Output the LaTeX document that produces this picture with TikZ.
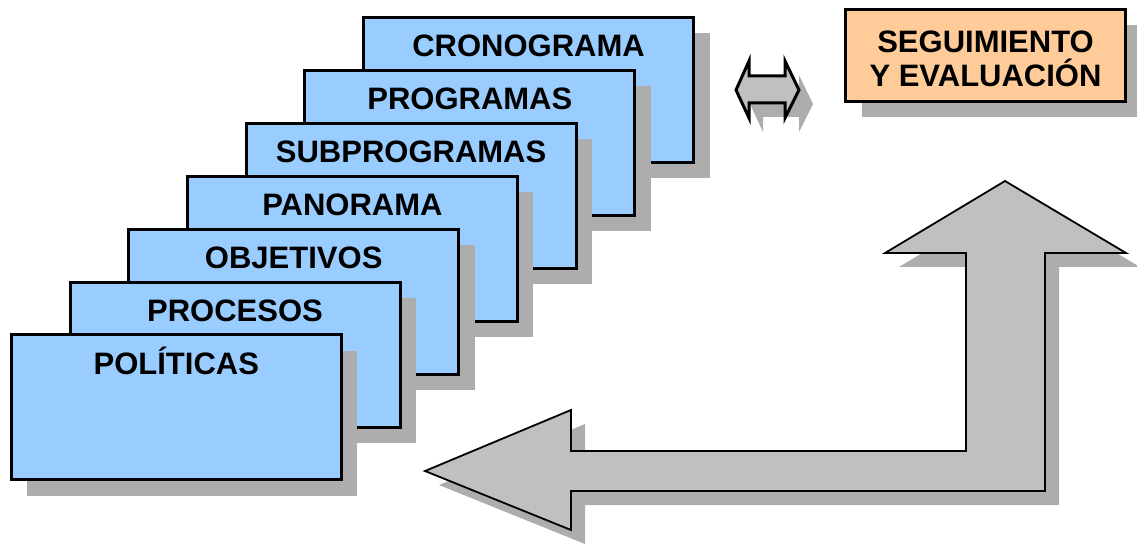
\documentclass[tikz,border=0pt]{standalone}
\usepackage{fontspec}
\setmainfont{Liberation Sans}
\usetikzlibrary{shadows}
\definecolor{stackblue}{HTML}{99CCFF}
\definecolor{peach}{HTML}{FFCC99}
\definecolor{arrowgrey}{HTML}{C0C0C0}
\definecolor{shadegrey}{HTML}{ADADAD}
\begin{document}
\begin{tikzpicture}[x=1pt,y=-1pt,
  shade/.style={drop shadow={shadow xshift=16pt, shadow yshift=-16pt, fill=shadegrey, opacity=1}},
  arrowshade/.style={drop shadow={shadow xshift=14pt, shadow yshift=-14pt, fill=shadegrey, opacity=1}},
  card/.style={shade, draw=black, line width=3pt, fill=stackblue,
    minimum width=330pt, minimum height=145pt, inner sep=0pt},
  cardtext/.style={font=\fontsize{31}{36}\selectfont\bfseries, anchor=base, inner sep=0pt},
  evalbox/.style={shade, draw=black, line width=3pt, fill=peach,
    minimum width=280pt, minimum height=92pt, inner sep=0pt},
  bigarrow/.style={arrowshade, draw=black, line width=1.8pt, fill=arrowgrey, line join=miter},
  smallarrow/.style={arrowshade, draw=black, line width=3pt, fill=arrowgrey, line join=miter}
]
\useasboundingbox (0,0) rectangle (1137,545);

% stacked cards, drawn from the back one to the front one
\foreach \i/\name/\txt in {0/crono/CRONOGRAMA, 1/prog/PROGRAMAS, 2/subprog/SUBPROGRAMAS,
    3/pano/PANORAMA, 4/obj/OBJETIVOS, 5/proc/PROCESOS, 6/pol/POLÍTICAS} {
  \node[card] (\name) at ({528.5-58.7*\i},{90+52.9*\i}) {};
  \node[cardtext] (\name-t) at ([yshift=-41pt]\name.north) {\txt};
}

% double-headed link arrow
\draw[smallarrow] (736,90) -- (749,61) -- (749,76) -- (785,76) -- (785,61) -- (799,90)
  -- (785,118) -- (785,103) -- (749,103) -- (749,118) -- cycle;

% follow-up box
\node[evalbox] (seg) at (985.5,55.5) {};
\node[cardtext] (seg-a) at ([yshift=-44.5pt]seg.north) {SEGUIMIENTO};
\node[cardtext] (seg-b) at ([yshift=-78.5pt]seg.north) {Y EVALUACIÓN};

% feedback arrow: up to the follow-up box, back to the cards
\draw[bigarrow] (1005,181) -- (1126,253) -- (1045,253) -- (1045,491) -- (571,491)
  -- (571,530) -- (425,471) -- (571,410) -- (571,451) -- (966,451) -- (966,253)
  -- (885,253) -- cycle;
\end{tikzpicture}
\end{document}
